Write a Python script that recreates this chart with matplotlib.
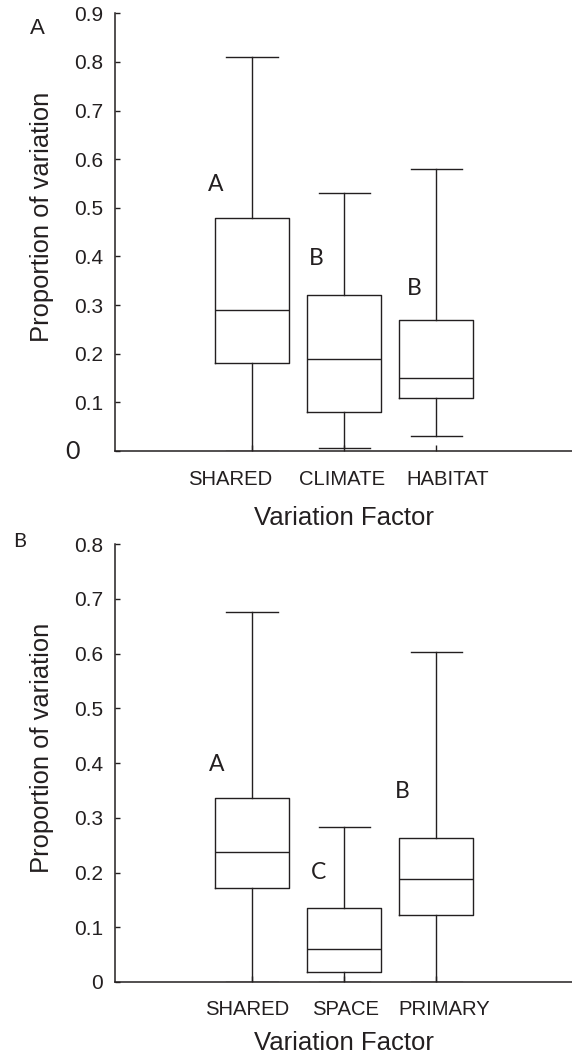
import matplotlib
matplotlib.use("Agg")
import matplotlib.pyplot as plt
import matplotlib.transforms as mtransforms

# panel A: partitioning with climate / habitat
factors_a = ["SHARED", "CLIMATE", "HABITAT"]
whishi_a = [0.81, 0.53, 0.58]
q3_a = [0.48, 0.32, 0.27]
med_a = [0.29, 0.19, 0.15]
q1_a = [0.18, 0.08, 0.11]
whislo_a = [0.0, 0.007, 0.03]
letters_a = ["A", "B", "B"]
letter_y_a = [0.547, 0.396, 0.334]

# panel B: partitioning with space / primary
factors_b = ["SHARED", "SPACE", "PRIMARY"]
whishi_b = [0.676, 0.284, 0.603]
q3_b = [0.336, 0.136, 0.264]
med_b = [0.237, 0.061, 0.189]
q1_b = [0.172, 0.019, 0.122]
whislo_b = [0.0, 0.0, 0.0]
letters_b = ["A", "C", "B"]
letter_y_b = [0.397, 0.200, 0.348]

INK = "#231f20"
plt.rcParams["font.family"] = ["Liberation Sans", "DejaVu Sans"]


def draw_panel(ax, factors, lo, q1, med, q3, hi, letters, letter_y, letter_x,
               label_x, ymax, cat_y, xlab_y, big_zero):
    stats = []
    for i in range(len(factors)):
        stats.append({"whislo": lo[i], "q1": q1[i], "med": med[i],
                      "q3": q3[i], "whishi": hi[i], "fliers": []})
    pos = list(range(1, len(factors) + 1))
    lp = dict(color=INK, linewidth=1.0)
    ax.bxp(stats, positions=pos, widths=0.8, capwidths=0.56, showfliers=False,
           boxprops=lp, whiskerprops=lp, capprops=lp, medianprops=lp)

    ax.set_xlim(-0.492, 4.475)
    ax.set_ylim(0, ymax)
    ticks = [round(0.1 * k, 1) for k in range(int(round(ymax * 10)) + 1)]
    ax.set_yticks(ticks)
    labels = ["%g" % t for t in ticks]
    if big_zero:
        labels[0] = ""
    ax.set_yticklabels(labels)
    ax.set_xticks(pos)
    ax.set_xticklabels([])
    ax.tick_params(axis="y", direction="in", length=3.6, width=1.0,
                   labelsize=15, pad=8.4, colors=INK)
    ax.tick_params(axis="x", direction="in", length=4.3, width=1.0, colors=INK)
    for s in ["top", "right"]:
        ax.spines[s].set_visible(False)
    for s in ["left", "bottom"]:
        ax.spines[s].set_linewidth(1.1)
        ax.spines[s].set_color(INK)

    if big_zero:
        ax.text(-0.092, 0, "0", transform=mtransforms.blended_transform_factory(
            ax.transAxes, ax.transData), ha="center", va="center",
            fontsize=18, family="Lato", color=INK)

    for x, y, t in zip(letter_x, letter_y, letters):
        ax.text(x, y, t, ha="center", va="center", fontsize=16.5,
                family="Lato", color=INK)

    trans = mtransforms.blended_transform_factory(ax.transData, ax.transAxes)
    for x, t in zip(label_x, factors):
        ax.text(x, cat_y, t, transform=trans, ha="center", va="center",
                fontsize=14.6, color=INK)
    ax.text(2.0, xlab_y, "Variation Factor", transform=trans, ha="center",
            va="center", fontsize=18.5, color=INK)
    ax.text(-0.16, 0.535, "Proportion of variation", transform=ax.transAxes,
            rotation=90, ha="center", va="center", fontsize=18.4, color=INK)


fig = plt.figure(figsize=(5.72, 10.57), dpi=100)
ax_a = fig.add_axes([0.2010, 0.5733, 0.7990, 0.4141])
ax_b = fig.add_axes([0.2010, 0.0710, 0.7990, 0.4141])

draw_panel(ax_a, factors_a, whislo_a, q1_a, med_a, q3_a, whishi_a,
           letters_a, letter_y_a, [0.60, 1.70, 2.76], [0.765, 1.975, 3.123],
           0.9, -0.064, -0.153, True)
draw_panel(ax_b, factors_b, whislo_b, q1_b, med_b, q3_b, whishi_b,
           letters_b, letter_y_b, [0.614, 1.72, 2.63], [0.95, 2.01, 3.09],
           0.8, -0.062, -0.139, False)

fig.text(37.5 / 572, 1 - 28 / 1057, "A", ha="center", va="center",
         fontsize=16, color=INK)
fig.text(19.5 / 572, 1 - 541.7 / 1057, "B", ha="center", va="center",
         fontsize=14.5, family="Lato", color=INK)

fig.savefig("out.png", dpi=100)
